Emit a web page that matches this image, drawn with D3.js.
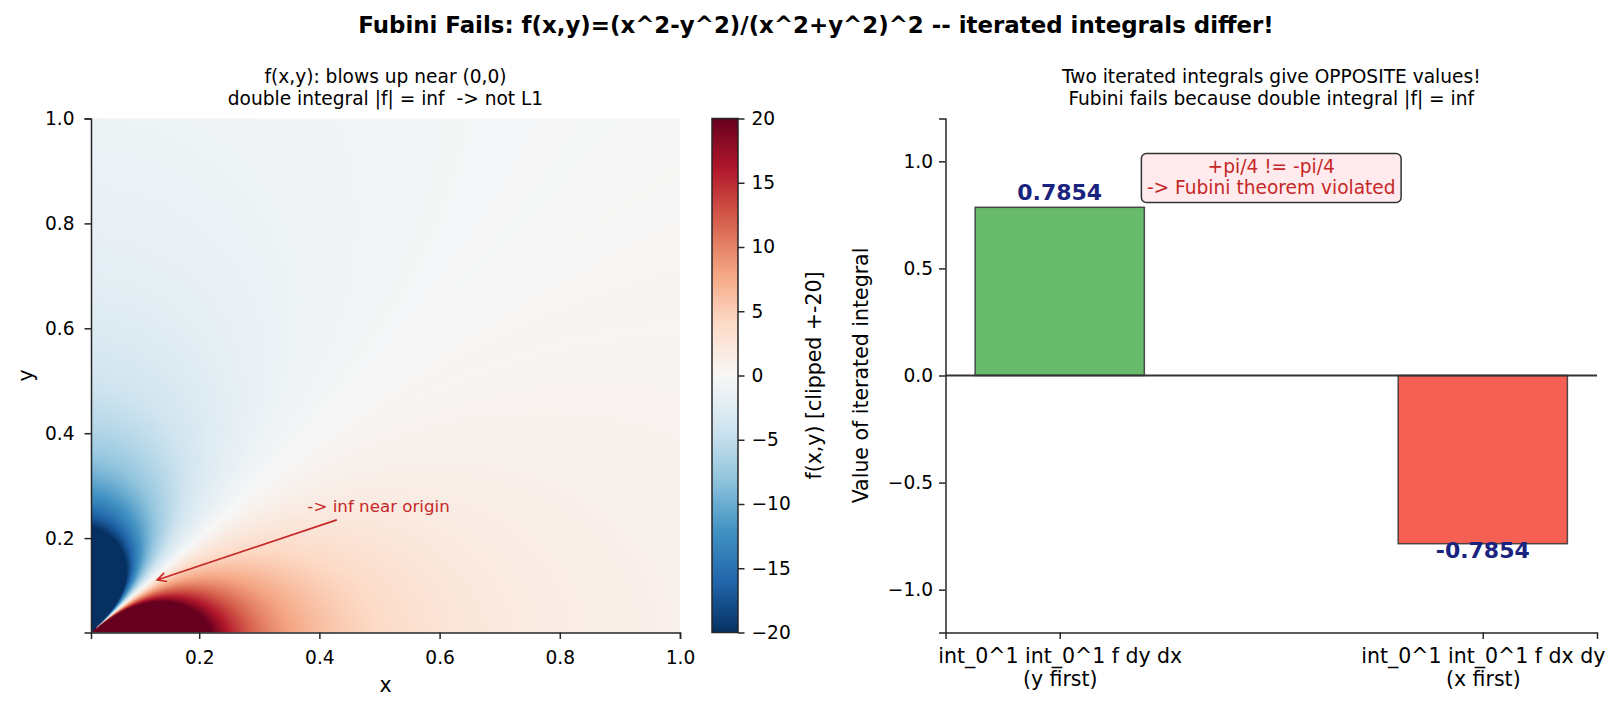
<!DOCTYPE html>
<html>
<head>
<meta charset="utf-8">
<script src="https://cdn.jsdelivr.net/npm/d3@7"></script>
<style>
    body { margin: 0; background: #fff; }
    svg { display: block; font-family: "DejaVu Sans", sans-serif; }
    text { white-space: pre; }
</style>
</head>
<body>
<div id="chart"></div>
<script>
// ---- data ----
var heatXDomain = [0.02, 1.0]
var heatYDomain = [0.02, 1.0]
var heatTicks = [0.2, 0.4, 0.6, 0.8, 1.0]
var clipLimit = 20
var cbarTicks = [-20, -15, -10, -5, 0, 5, 10, 15, 20]
// RdBu_r stops, low -> high
var rdbuR = ["#053061", "#2166ac", "#4393c3", "#92c5de", "#d1e5f0", "#f7f7f7",
             "#fddbc7", "#f4a582", "#d6604d", "#b2182b", "#67001f"]
var barCategories = ["int_0^1 int_0^1 f dy dx\n(y first)", "int_0^1 int_0^1 f dx dy\n(x first)"]
var barValues = [0.7854, -0.7854]
var barTicks = [-1.0, -0.5, 0.0, 0.5, 1.0]
var barDomain = [-1.2, 1.2]
var barColors = ["#4caf50", "#f44336"]
var arrowTarget = [0.13, 0.12]
var arrowTextPos = [0.38, 0.25]
var boxTextPos = [0.5, 0.92]

// the surface being plotted
function f(x, y) {
    var r2 = x * x + y * y
    return (x * x - y * y) / (r2 * r2)
}

// ---- layout ----
var width = 1622
var height = 711
var plotTop = 118.5, plotBottom = 632.5
var heatLeft = 91, heatRight = 680
var cbarLeft = 712, cbarWidth = 26
var barLeft = 945.5, barRight = 1597
var spineColor = "#262626"

var svg = d3.select("#chart").append("svg")
    .attr("width", width)
    .attr("height", height)

// title
svg.append("text")
    .attr("x", 816).attr("y", 33)
    .attr("text-anchor", "middle")
    .attr("font-size", 22.9).attr("font-weight", "bold")
    .text("Fubini Fails: f(x,y)=(x^2-y^2)/(x^2+y^2)^2 -- iterated integrals differ!")

function subtitle(cx, lines) {
    lines.forEach((s, i) => {
        svg.append("text")
            .attr("x", cx).attr("y", 83 + i * 22)
            .attr("text-anchor", "middle")
            .attr("font-size", 18.6)
            .text(s)
    })
}

// ---- left: heatmap ----
var xHeat = d3.scaleLinear().domain(heatXDomain).range([heatLeft, heatRight])
var yHeat = d3.scaleLinear().domain(heatYDomain).range([plotBottom, plotTop])
var colorScale = d3.scaleLinear()
    .domain(d3.range(rdbuR.length).map(i => -clipLimit + i * 2 * clipLimit / (rdbuR.length - 1)))
    .range(rdbuR)
    .interpolate(d3.interpolateRgb)
    .clamp(true)

var cw = Math.round(heatRight - heatLeft), ch = Math.round(plotBottom - plotTop)
var canvas = document.createElement("canvas")
canvas.width = cw
canvas.height = ch
var ctx = canvas.getContext("2d")
var img = ctx.createImageData(cw, ch)
for (var j = 0; j < ch; j++) {
    var yv = yHeat.invert(plotTop + j + 0.5)
    for (var i = 0; i < cw; i++) {
        var xv = xHeat.invert(heatLeft + i + 0.5)
        var c = d3.rgb(colorScale(f(xv, yv)))
        var k = (j * cw + i) * 4
        img.data[k] = c.r; img.data[k + 1] = c.g; img.data[k + 2] = c.b; img.data[k + 3] = 255
    }
}
ctx.putImageData(img, 0, 0)
svg.append("image")
    .attr("x", heatLeft).attr("y", plotTop)
    .attr("width", cw).attr("height", ch)
    .attr("preserveAspectRatio", "none")
    .attr("href", canvas.toDataURL())

var heatXAxis = svg.append("g")
    .attr("transform", `translate(0,${plotBottom})`)
    .call(d3.axisBottom(xHeat).tickValues(heatTicks).tickFormat(d3.format(".1f"))
        .tickSizeOuter(0).tickSize(6.5).tickPadding(12))
var heatYAxis = svg.append("g")
    .attr("transform", `translate(${heatLeft},0)`)
    .call(d3.axisLeft(yHeat).tickValues(heatTicks).tickFormat(d3.format(".1f"))
        .tickSizeOuter(0).tickSize(6.5).tickPadding(10))

svg.append("text")
    .attr("x", (heatLeft + heatRight) / 2).attr("y", 691.5)
    .attr("text-anchor", "middle").attr("font-size", 20.5)
    .text("x")
svg.append("text")
    .attr("transform", `translate(26,${(plotTop + plotBottom) / 2})rotate(-90)`)
    .attr("dy", "0.35em")
    .attr("text-anchor", "middle").attr("font-size", 20.5)
    .text("y")

subtitle((heatLeft + heatRight) / 2, ["f(x,y): blows up near (0,0)", "double integral |f| = inf  -> not L1"])

// annotation with arrow
var annColor = "#c62828"
var annText = svg.append("text")
    .attr("x", xHeat(arrowTextPos[0])).attr("y", yHeat(arrowTextPos[1]))
    .attr("font-size", 16.7).attr("fill", annColor)
    .text("-> inf near origin")
var bb = annText.node().getBBox()
var tx = xHeat(arrowTarget[0]), ty = yHeat(arrowTarget[1])
var cx0 = bb.x + bb.width / 2, cy0 = bb.y + bb.height / 2
var dx = tx - cx0, dy = ty - cy0
var pad = 4
var tEdge = Math.min(Math.abs((bb.width / 2 + pad) / dx), Math.abs((bb.height / 2 + pad) / dy))
var sx = cx0 + dx * tEdge, sy = cy0 + dy * tEdge
var ang = Math.atan2(ty - sy, tx - sx)
var hl = 9, hw = 4.5
svg.append("path")
    .attr("d", `M${sx},${sy}L${tx},${ty}`
        + `M${tx - hl * Math.cos(ang) + hw * Math.sin(ang)},${ty - hl * Math.sin(ang) - hw * Math.cos(ang)}`
        + `L${tx},${ty}`
        + `L${tx - hl * Math.cos(ang) - hw * Math.sin(ang)},${ty - hl * Math.sin(ang) + hw * Math.cos(ang)}`)
    .attr("fill", "none").attr("stroke", annColor).attr("stroke-width", 1.6)

// ---- colorbar ----
var yCbar = d3.scaleLinear().domain([-clipLimit, clipLimit]).range([plotBottom, plotTop])
var grad = svg.append("defs").append("linearGradient")
    .attr("id", "cbarGrad")
    .attr("x1", 0).attr("y1", 1).attr("x2", 0).attr("y2", 0)
grad.selectAll("stop")
    .data(rdbuR)
    .join("stop")
    .attr("offset", (d, i) => i / (rdbuR.length - 1))
    .attr("stop-color", d => d)
svg.append("rect")
    .attr("x", cbarLeft).attr("y", plotTop)
    .attr("width", cbarWidth).attr("height", plotBottom - plotTop)
    .attr("fill", "url(#cbarGrad)")
    .attr("stroke", spineColor).attr("stroke-width", 1.5)
var cbarAxis = svg.append("g")
    .attr("transform", `translate(${cbarLeft + cbarWidth},0)`)
    .call(d3.axisRight(yCbar).tickValues(cbarTicks).tickFormat(d3.format("d"))
        .tickSizeOuter(0).tickSize(6.5).tickPadding(7))
cbarAxis.select(".domain").remove()
svg.append("text")
    .attr("transform", `translate(814,${(plotTop + plotBottom) / 2})rotate(-90)`)
    .attr("dy", "0.35em")
    .attr("text-anchor", "middle").attr("font-size", 20.5)
    .text("f(x,y) [clipped +-20]")

// ---- right: bar chart ----
var xBar = d3.scaleLinear().domain([-0.27, barCategories.length - 1 + 0.27]).range([barLeft, barRight])
var yBar = d3.scaleLinear().domain(barDomain).range([plotBottom, plotTop])
var barW = xBar(0.4) - xBar(0)

svg.append("g")
    .selectAll("rect")
    .data(barValues)
    .join("rect")
    .attr("x", (d, i) => xBar(i) - barW / 2)
    .attr("y", d => yBar(Math.max(d, 0)))
    .attr("width", barW)
    .attr("height", d => Math.abs(yBar(d) - yBar(0)))
    .attr("fill", (d, i) => barColors[i]).attr("fill-opacity", 0.85)
    .attr("stroke", "#333").attr("stroke-opacity", 0.85).attr("stroke-width", 1.5)

// zero line
svg.append("line")
    .attr("x1", barLeft).attr("x2", barRight)
    .attr("y1", yBar(0)).attr("y2", yBar(0))
    .attr("stroke", "#333").attr("stroke-width", 1.8)

// value labels
svg.append("g")
    .selectAll("text")
    .data(barValues)
    .join("text")
    .attr("x", (d, i) => xBar(i))
    .attr("y", d => d >= 0 ? yBar(d) - 7 : yBar(d) + 14.5)
    .attr("text-anchor", "middle")
    .attr("font-size", 22).attr("font-weight", "bold").attr("fill", "#1a237e")
    .text(d => d.toFixed(4))

var barYAxis = svg.append("g")
    .attr("transform", `translate(${barLeft},0)`)
    .call(d3.axisLeft(yBar).tickValues(barTicks).tickFormat(d3.format(".1f"))
        .tickSizeOuter(0).tickSize(6.5).tickPadding(6))
var barXAxis = svg.append("g")
    .attr("transform", `translate(0,${plotBottom})`)
    .call(d3.axisBottom(xBar).tickValues(d3.range(barCategories.length)).tickFormat("")
        .tickSizeOuter(0).tickSize(6.5))
barXAxis.selectAll(".tick")
    .append("text")
    .attr("fill", "#000")
    .attr("text-anchor", "middle")
    .attr("font-size", 20.5)
    .selectAll("tspan")
    .data(d => barCategories[d].split("\n"))
    .join("tspan")
    .attr("x", 0)
    .attr("y", (d, i) => 30 + i * 23)
    .text(d => d)

svg.append("text")
    .attr("transform", `translate(861,${(plotTop + plotBottom) / 2})rotate(-90)`)
    .attr("dy", "0.35em")
    .attr("text-anchor", "middle").attr("font-size", 20.5)
    .text("Value of iterated integral")

subtitle((barLeft + barRight) / 2, ["Two iterated integrals give OPPOSITE values!", "Fubini fails because double integral |f| = inf"])

// annotation box
var boxG = svg.append("g")
var boxLines = ["+pi/4 != -pi/4", "-> Fubini theorem violated"]
var bx = xBar(boxTextPos[0]), by = yBar(boxTextPos[1])
var boxText = boxG.append("text")
    .attr("text-anchor", "middle")
    .attr("font-size", 18.6).attr("fill", annColor)
boxText.selectAll("tspan")
    .data(boxLines)
    .join("tspan")
    .attr("x", bx)
    .attr("y", (d, i) => by - 5 + i * 21)
    .text(d => d)
var tb = boxText.node().getBBox()
boxG.insert("rect", "text")
    .attr("x", tb.x - 5.5).attr("y", tb.y - 3)
    .attr("width", tb.width + 11).attr("height", tb.height + 7)
    .attr("rx", 5)
    .attr("fill", "#ffebee")
    .attr("stroke", "#333").attr("stroke-width", 1.5)

// axis styling (matplotlib-like)
svg.selectAll(".domain").attr("stroke", spineColor).attr("stroke-width", 1.5)
svg.selectAll(".tick line").attr("stroke", spineColor).attr("stroke-width", 1.5)
svg.selectAll(".tick text").attr("fill", "#000")
;[heatXAxis, heatYAxis, cbarAxis, barYAxis].forEach(g => g.attr("font-size", 18.6).attr("font-family", null))
barXAxis.attr("font-family", null)
</script>
</body>
</html>
